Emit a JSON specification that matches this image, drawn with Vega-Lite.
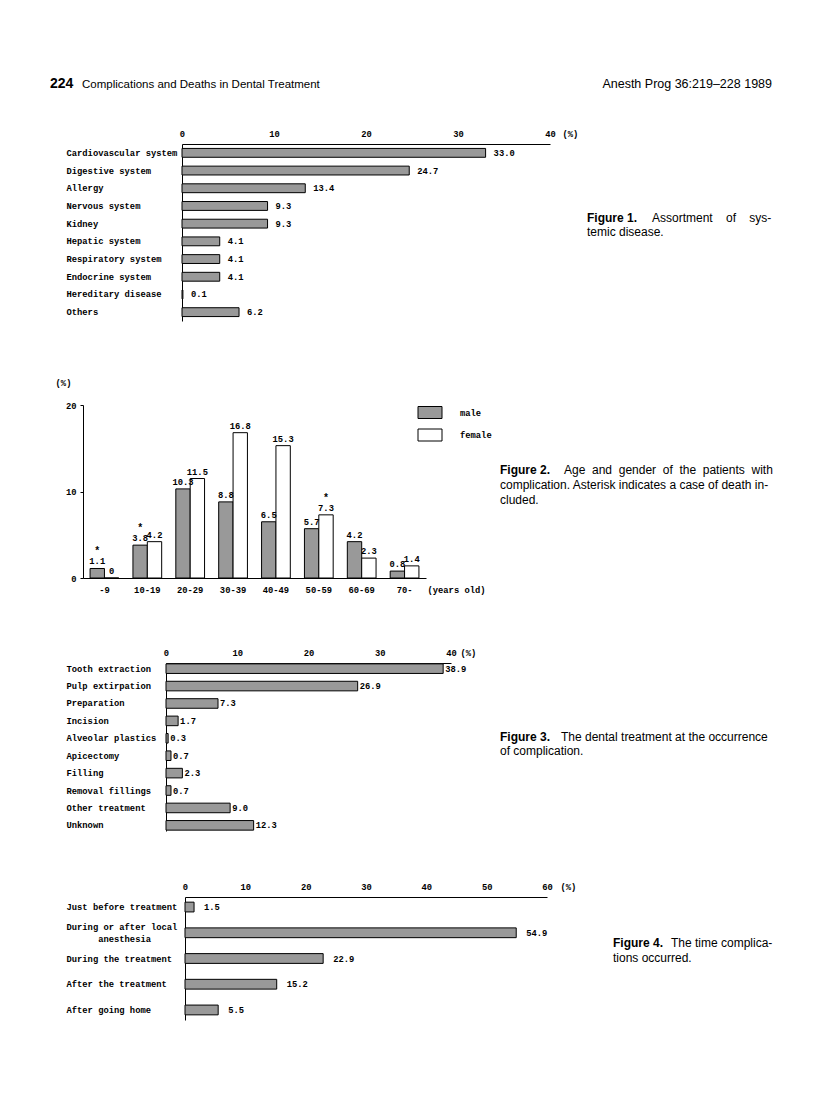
{
  "$schema": "https://vega.github.io/schema/vega-lite/v6.json",
  "width": 816,
  "height": 1119,
  "autosize": {"type": "none"},
  "padding": 0,
  "background": "white",
  "config": {
    "view": {"stroke": null},
    "axis": {
      "grid": false,
      "labelFont": "Liberation Mono",
      "labelFontWeight": "bold",
      "labelFontSize": 8.8,
      "labelColor": "black",
      "titleFont": "Liberation Mono",
      "titleFontWeight": "bold",
      "titleFontSize": 8.8,
      "titleColor": "black",
      "domainColor": "black",
      "domainWidth": 1,
      "tickColor": "black",
      "labelFlush": false,
      "labelOverlap": false
    },
    "text": {"font": "Liberation Mono", "fontWeight": "bold", "fontSize": 8.8, "color": "black"}
  },
  "datasets": {
    "fig1": [
      {"disease": "Cardiovascular system", "pct": 33.0},
      {"disease": "Digestive system", "pct": 24.7},
      {"disease": "Allergy", "pct": 13.4},
      {"disease": "Nervous system", "pct": 9.3},
      {"disease": "Kidney", "pct": 9.3},
      {"disease": "Hepatic system", "pct": 4.1},
      {"disease": "Respiratory system", "pct": 4.1},
      {"disease": "Endocrine system", "pct": 4.1},
      {"disease": "Hereditary disease", "pct": 0.1},
      {"disease": "Others", "pct": 6.2}
    ],
    "fig2": [
      {"age": "-9", "sex": "male", "pct2": 1.1, "death": true},
      {"age": "-9", "sex": "female", "pct2": 0, "death": false},
      {"age": "10-19", "sex": "male", "pct2": 3.8, "death": true},
      {"age": "10-19", "sex": "female", "pct2": 4.2, "death": false},
      {"age": "20-29", "sex": "male", "pct2": 10.3, "death": false},
      {"age": "20-29", "sex": "female", "pct2": 11.5, "death": false},
      {"age": "30-39", "sex": "male", "pct2": 8.8, "death": false},
      {"age": "30-39", "sex": "female", "pct2": 16.8, "death": false},
      {"age": "40-49", "sex": "male", "pct2": 6.5, "death": false},
      {"age": "40-49", "sex": "female", "pct2": 15.3, "death": false},
      {"age": "50-59", "sex": "male", "pct2": 5.7, "death": false},
      {"age": "50-59", "sex": "female", "pct2": 7.3, "death": true},
      {"age": "60-69", "sex": "male", "pct2": 4.2, "death": false},
      {"age": "60-69", "sex": "female", "pct2": 2.3, "death": false},
      {"age": "70-", "sex": "male", "pct2": 0.8, "death": false},
      {"age": "70-", "sex": "female", "pct2": 1.4, "death": false}
    ],
    "fig3": [
      {"treatment": "Tooth extraction", "pct3": 38.9},
      {"treatment": "Pulp extirpation", "pct3": 26.9},
      {"treatment": "Preparation", "pct3": 7.3},
      {"treatment": "Incision", "pct3": 1.7},
      {"treatment": "Alveolar plastics", "pct3": 0.3},
      {"treatment": "Apicectomy", "pct3": 0.7},
      {"treatment": "Filling", "pct3": 2.3},
      {"treatment": "Removal fillings", "pct3": 0.7},
      {"treatment": "Other treatment", "pct3": 9.0},
      {"treatment": "Unknown", "pct3": 12.3}
    ],
    "fig4": [
      {"time": "Just before treatment", "pct4": 1.5},
      {"time": "During or after local anesthesia", "pct4": 54.9},
      {"time": "During the treatment", "pct4": 22.9},
      {"time": "After the treatment", "pct4": 15.2},
      {"time": "After going home", "pct4": 5.5}
    ]
  },
  "layer": [
    {
      "data": {"name": "fig1"},
      "encoding": {
        "y": {"field": "disease", "type": "nominal", "sort": null,
          "scale": {"range": [144, 321], "paddingInner": 0.5, "paddingOuter": 0.25},
          "axis": {"orient": "left", "offset": -182, "title": null, "ticks": false, "tickSize": 0, "labelAlign": "left", "labelPadding": 116, "labelBaseline": "middle"}},
        "x": {"field": "pct", "type": "quantitative",
          "scale": {"domain": [0, 40], "range": [182, 550], "nice": false},
          "axis": {"orient": "top", "offset": -144, "values": [0, 10, 20, 30, 40], "ticks": false, "tickSize": 0, "labelPadding": 6,
            "title": "(%)", "titleX": 562, "titleY": -6, "titleAlign": "left", "titleBaseline": "bottom", "titleAngle": 0}}
      },
      "layer": [
        {"mark": {"type": "bar", "fill": "#999999", "stroke": "black", "strokeWidth": 1}},
        {"mark": {"type": "text", "align": "left", "baseline": "middle", "dx": 8}, "encoding": {"text": {"field": "pct", "type": "quantitative", "format": ".1f"}}}
      ]
    },
    {
      "data": {"name": "fig2"},
      "encoding": {
        "x": {"field": "age", "type": "nominal", "sort": null,
          "scale": {"range": [83, 426], "paddingInner": 0.33, "paddingOuter": 0.165},
          "axis": {"orient": "bottom", "offset": -541, "ticks": false, "tickSize": 0, "labelPadding": 7, "labelAngle": 0,
            "title": "(years old)", "titleX": 427, "titleY": 7, "titleAlign": "left", "titleBaseline": "top", "titleAngle": 0}},
        "xOffset": {"field": "sex", "type": "nominal", "sort": null, "scale": {"domain": ["male", "female"], "paddingInner": 0, "paddingOuter": 0}},
        "y": {"field": "pct2", "type": "quantitative",
          "scale": {"domain": [0, 20], "range": [578, 405], "nice": false},
          "axis": {"orient": "left", "offset": -83, "values": [0, 10, 20], "ticks": true, "tickSize": 3, "labelPadding": 4,
            "title": "(%)", "titleX": -20, "titleY": 382, "titleAlign": "center", "titleBaseline": "middle", "titleAngle": 0}}
      },
      "layer": [
        {"mark": {"type": "bar", "stroke": "black", "strokeWidth": 1},
          "encoding": {"color": {"field": "sex", "type": "nominal",
            "scale": {"domain": ["male", "female"], "range": ["#999999", "#ffffff"]},
            "legend": {"orient": "none", "legendX": 423.5, "legendY": 406, "title": null, "padding": 0,
              "symbolType": "M-2,-1H2V1H-2Z", "symbolSize": 144, "symbolStrokeColor": "black", "symbolStrokeWidth": 1,
              "labelOffset": 23.5, "rowPadding": 5.5, "labelFont": "Liberation Mono", "labelFontWeight": "bold", "labelFontSize": 8.8, "labelColor": "black"}}}},
        {"mark": {"type": "text", "align": "center", "baseline": "alphabetic", "dy": -4},
          "encoding": {"text": {"field": "pct2", "type": "nominal"}}},
        {"transform": [{"filter": "datum.death"}],
          "mark": {"type": "text", "text": "*", "align": "center", "baseline": "alphabetic", "dy": -14, "fontSize": 10},
          "encoding": {}}
      ]
    },
    {
      "data": {"name": "fig3"},
      "encoding": {
        "y": {"field": "treatment", "type": "nominal", "sort": null,
          "scale": {"range": [663, 831], "paddingInner": 0.45, "paddingOuter": 0.05},
          "axis": {"orient": "left", "offset": -166, "title": null, "ticks": false, "tickSize": 0, "labelAlign": "left", "labelPadding": 100, "labelBaseline": "middle"}},
        "x": {"field": "pct3", "type": "quantitative",
          "scale": {"domain": [0, 40], "range": [166, 451], "nice": false},
          "axis": {"orient": "top", "offset": -663, "values": [0, 10, 20, 30, 40], "ticks": false, "tickSize": 0, "labelPadding": 6,
            "title": "(%)", "titleX": 460, "titleY": -6, "titleAlign": "left", "titleBaseline": "bottom", "titleAngle": 0}}
      },
      "layer": [
        {"mark": {"type": "bar", "fill": "#999999", "stroke": "black", "strokeWidth": 1}},
        {"mark": {"type": "text", "align": "left", "baseline": "middle", "dx": 2}, "encoding": {"text": {"field": "pct3", "type": "quantitative", "format": ".1f"}}}
      ]
    },
    {
      "data": {"name": "fig4"},
      "encoding": {
        "y": {"field": "time", "type": "nominal", "sort": null,
          "scale": {"range": [897, 1020], "paddingInner": 0.62, "paddingOuter": 0.2},
          "axis": {"orient": "left", "offset": -185, "title": null, "ticks": false, "tickSize": 0, "labelAlign": "left", "labelPadding": 119, "labelBaseline": "middle", "labelLineHeight": 12,
            "labelOffset": {"condition": {"test": "datum.value == 'During or after local anesthesia'", "value": -6}, "value": 0},
            "labelExpr": "datum.value == 'During or after local anesthesia' ? ['During or after local', '\u200b\u00a0\u00a0\u00a0\u00a0\u00a0\u00a0anesthesia'] : datum.label"}},
        "x": {"field": "pct4", "type": "quantitative",
          "scale": {"domain": [0, 60], "range": [185, 547], "nice": false},
          "axis": {"orient": "top", "offset": -897, "values": [0, 10, 20, 30, 40, 50, 60], "ticks": false, "tickSize": 0, "labelPadding": 6,
            "title": "(%)", "titleX": 560, "titleY": -6, "titleAlign": "left", "titleBaseline": "bottom", "titleAngle": 0}}
      },
      "layer": [
        {"mark": {"type": "bar", "fill": "#999999", "stroke": "black", "strokeWidth": 1}},
        {"mark": {"type": "text", "align": "left", "baseline": "middle", "dx": 10}, "encoding": {"text": {"field": "pct4", "type": "quantitative", "format": ".1f"}}}
      ]
    },
    {"data": {"values": [{}]}, "mark": {"type": "text", "text": "224", "x": 50, "y": 88, "align": "left", "baseline": "alphabetic", "font": "Liberation Sans", "fontWeight": "bold", "fontSize": 14}, "encoding": {}},
    {"data": {"values": [{}]}, "mark": {"type": "text", "text": "Complications and Deaths in Dental Treatment", "x": 82, "y": 88, "align": "left", "baseline": "alphabetic", "font": "Liberation Sans", "fontWeight": "normal", "fontSize": 11.5}, "encoding": {}},
    {"data": {"values": [{}]}, "mark": {"type": "text", "text": "Anesth Prog 36:219–228 1989", "x": 772, "y": 88, "align": "right", "baseline": "alphabetic", "font": "Liberation Sans", "fontWeight": "normal", "fontSize": 12.5}, "encoding": {}},
    {"data": {"values": [{}]}, "mark": {"type": "text", "text": "Figure 1.", "x": 587, "y": 222, "align": "left", "baseline": "alphabetic", "font": "Liberation Sans", "fontWeight": "bold", "fontSize": 12}, "encoding": {}},
    {"data": {"values": [{}]}, "mark": {"type": "text", "text": "Assortment\u00a0\u00a0\u00a0 of\u00a0\u00a0\u00a0 sys-", "x": 652, "y": 222, "align": "left", "baseline": "alphabetic", "font": "Liberation Sans", "fontWeight": "normal", "fontSize": 12}, "encoding": {}},
    {"data": {"values": [{}]}, "mark": {"type": "text", "text": ["temic disease."], "x": 587, "y": 236, "align": "left", "baseline": "alphabetic", "font": "Liberation Sans", "fontWeight": "normal", "fontSize": 12}, "encoding": {}},
    {"data": {"values": [{}]}, "mark": {"type": "text", "text": "Figure 2.", "x": 500, "y": 474, "align": "left", "baseline": "alphabetic", "font": "Liberation Sans", "fontWeight": "bold", "fontSize": 12}, "encoding": {}},
    {"data": {"values": [{}]}, "mark": {"type": "text", "text": "Age\u00a0 and\u00a0 gender\u00a0 of\u00a0 the\u00a0 patients\u00a0 with", "x": 564, "y": 474, "align": "left", "baseline": "alphabetic", "font": "Liberation Sans", "fontWeight": "normal", "fontSize": 12}, "encoding": {}},
    {"data": {"values": [{}]}, "mark": {"type": "text", "text": ["complication. Asterisk indicates a case of death in-", "cluded."], "lineHeight": 15, "x": 500, "y": 489, "align": "left", "baseline": "alphabetic", "font": "Liberation Sans", "fontWeight": "normal", "fontSize": 12}, "encoding": {}},
    {"data": {"values": [{}]}, "mark": {"type": "text", "text": "Figure 3.", "x": 500, "y": 741, "align": "left", "baseline": "alphabetic", "font": "Liberation Sans", "fontWeight": "bold", "fontSize": 12}, "encoding": {}},
    {"data": {"values": [{}]}, "mark": {"type": "text", "text": "The dental treatment at the occurrence", "x": 561, "y": 741, "align": "left", "baseline": "alphabetic", "font": "Liberation Sans", "fontWeight": "normal", "fontSize": 12}, "encoding": {}},
    {"data": {"values": [{}]}, "mark": {"type": "text", "text": ["of complication."], "x": 500, "y": 755, "align": "left", "baseline": "alphabetic", "font": "Liberation Sans", "fontWeight": "normal", "fontSize": 12}, "encoding": {}},
    {"data": {"values": [{}]}, "mark": {"type": "text", "text": "Figure 4.", "x": 613, "y": 947, "align": "left", "baseline": "alphabetic", "font": "Liberation Sans", "fontWeight": "bold", "fontSize": 12}, "encoding": {}},
    {"data": {"values": [{}]}, "mark": {"type": "text", "text": "The time complica-", "x": 671, "y": 947, "align": "left", "baseline": "alphabetic", "font": "Liberation Sans", "fontWeight": "normal", "fontSize": 12}, "encoding": {}},
    {"data": {"values": [{}]}, "mark": {"type": "text", "text": ["tions occurred."], "x": 613, "y": 962, "align": "left", "baseline": "alphabetic", "font": "Liberation Sans", "fontWeight": "normal", "fontSize": 12}, "encoding": {}}
  ],
  "resolve": {
    "scale": {"x": "independent", "y": "independent", "xOffset": "independent", "color": "independent"},
    "axis": {"x": "independent", "y": "independent"},
    "legend": {"color": "independent"}
  }
}
